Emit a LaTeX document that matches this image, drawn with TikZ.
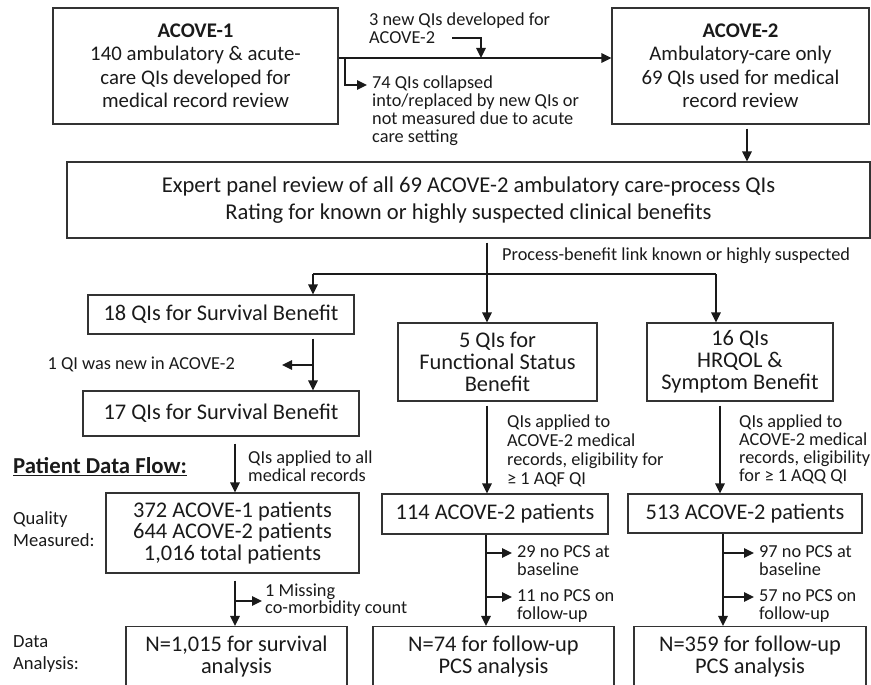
\documentclass[tikz,border=0pt]{standalone}
\usepackage{fontspec}
\setmainfont{Carlito}
\usetikzlibrary{arrows.meta,calc}
\definecolor{lc}{HTML}{1A1A1A}
\definecolor{bc}{HTML}{333333}
\newcommand\mainf{\fontsize{22.4}{21.8}\selectfont}
\newcommand\acovef{\fontsize{20.8}{23.5}\selectfont}
\newcommand\expf{\fontsize{22.6}{27}\selectfont}
\newcommand\smallf{\fontsize{18.3}{18}\selectfont}
\newcommand\sidef{\fontsize{18.6}{22}\selectfont}
\begin{document}
\begin{tikzpicture}[x=1pt,y=-1pt,
  box/.style={draw=bc, line width=1.1pt, inner sep=0pt, align=center, font=\mainf, text=lc},
  arr/.style={line width=1.5pt, draw=lc, -{Triangle[length=10pt,width=9.5pt]}},
  sarr/.style={arr, shorten >=5pt},
  ln/.style={line width=1.5pt, draw=lc},
  lbl/.style={inner sep=0pt, align=left, anchor=west, font=\smallf, text=lc},
  side/.style={inner sep=0pt, align=left, anchor=west, font=\sidef, text=lc}]
\useasboundingbox (0,0) rectangle (871,685);
% boxes
\node[box, font=\acovef, minimum width=285pt, minimum height=116pt] (a1) at (195.5,66) {\textbf{ACOVE-1}\\140 ambulatory \& acute-\\care QIs developed for\\medical record review};
\node[box, font=\acovef, minimum width=257pt, minimum height=116pt] (a2) at (740.5,66) {\textbf{ACOVE-2}\\Ambulatory-care only\\69 QIs used for medical\\record review};
\node[box, font=\expf, minimum width=803pt, minimum height=76pt] (exp) at (468.5,200) {Expert panel review of all 69 ACOVE-2 ambulatory care-process QIs\\Rating for known or highly suspected clinical benefits};
\node[box, minimum width=266pt, minimum height=39pt] (b18) at (221,314.5) {18 QIs for Survival Benefit};
\node[box, minimum width=199pt, minimum height=78pt] (b5) at (497.5,362) {5 QIs for\\Functional\ Status\\Benefit};
\node[box, minimum width=186pt, minimum height=78pt] (b16) at (740,362) {16 QIs\\HRQOL \&\\Symptom Benefit};
\node[box, minimum width=276pt, minimum height=45pt] (b17) at (221,413.5) {17 QIs for Survival Benefit};
\node[box, minimum width=253pt, minimum height=80pt] (pts) at (232.5,533) {372 ACOVE-1 patients\\644 ACOVE-2 patients\\1,016 total patients};
\node[box, minimum width=226pt, minimum height=40pt] (p114) at (495,514) {114 ACOVE-2 patients};
\node[box, minimum width=234pt, minimum height=39pt] (p513) at (745,513.5) {513 ACOVE-2 patients};
\node[box, minimum width=221pt, minimum height=60pt] (n1015) at (236.5,656.5) {N=1,015 for survival\\analysis};
\node[box, minimum width=241pt, minimum height=60pt] (n74) at (493.5,656.5) {N=74 for follow-up\\PCS analysis};
\node[box, minimum width=232pt, minimum height=60pt] (n359) at (750,656.5) {N=359 for follow-up\\PCS analysis};
% labels
\node[lbl] (t3) at (369,28) {3 new QIs developed for\\ACOVE-2};
\node[lbl] (t74) at (372,111) {74 QIs collapsed\\into/replaced by new QIs or\\not measured due to acute\\care setting};
\node[lbl] (proc) at (502,256) {Process-benefit link known or highly suspected};
\node[lbl, anchor=east] (t1qi) at (235,364) {1 QI was new in ACOVE-2};
\node[lbl] (tapp) at (248,466) {QIs applied to all\\medical records};
\node[side, font=\fontsize{22.8}{24}\selectfont\bfseries] (pdf) at (13,467) {\underline{Patient Data Flow:}};
\node[side] (qm) at (13,529) {Quality\\Measured:};
\node[side] (da) at (13,654) {Data\\Analysis:};
\node[lbl, font=\fontsize{18.3}{19}\selectfont] (t5app) at (507,451) {QIs applied to\\ACOVE-2 medical\\records, eligibility for\\≥ 1 AQF QI};
\node[lbl] (t16app) at (739,449) {QIs applied to\\ACOVE-2 medical\\records, eligibility\\for ≥ 1 AQQ QI};
\node[lbl, font=\fontsize{18.3}{16.5}\selectfont] (miss) at (265,600) {1 Missing\\co-morbidity count};
\node[lbl] (m29) at (517,561) {29 no PCS at\\baseline};
\node[lbl] (m11) at (517,606) {11 no PCS on\\follow-up};
\node[lbl] (m97) at (759,561) {97 no PCS at\\baseline};
\node[lbl] (m57) at (759,606) {57 no PCS on\\follow-up};
% coordinates
\coordinate (mainy) at (0,58);
\coordinate (j3) at (481,58);
\coordinate (k3) at (452,38);
\coordinate (h1) at (345,58);
\coordinate (h2) at (345,85);
\coordinate (xa2) at (747,0);
\coordinate (br) at (487,274);
\coordinate (bl) at (313,274);
\coordinate (brr) at (716,274);
\coordinate (x18) at (313,0);
\coordinate (s1) at (313,365);
\coordinate (s1e) at (282,365);
\coordinate (x17) at (235,0);
\coordinate (x5) at (487,0);
\coordinate (x16) at (720,0);
\coordinate (xm) at (486,0);
\coordinate (xr) at (723,0);
% connectors
\draw[arr] (a1.east |- mainy) -- (a2.west |- mainy);
\draw[arr] (k3) -- (k3 -| j3) -- (j3);
\draw[sarr] (h1) -- (h2) -- (t74.west |- h2);
\draw[arr] (a2.south -| xa2) ++(0,4) -- (exp.north -| xa2);
\draw[ln] (exp.south -| br) ++(0,4) -- (br);
\draw[arr] (br) -- (b5.north -| br);
\draw[ln] (bl) -- (brr);
\draw[arr] (bl) -- (b18.north -| bl);
\draw[arr] (brr) -- (b16.north -| brr);
\draw[arr] (b18.south -| x18) ++(0,4) -- (b17.north -| x18);
\draw[arr] (s1) -- (s1e);
\draw[arr] (b17.south -| x17) ++(0,7) -- (pts.north -| x17);
\draw[arr] (b5.south -| x5) ++(0,4) -- (p114.north -| x5);
\draw[arr] (b16.south -| x16) ++(0,4) -- (p513.north -| x16);
\draw[arr] (pts.south -| x17) ++(0,7) -- (n1015.north -| x17);
\draw[sarr, shorten >=3pt] (235,601) -- (miss.west |- 0,601);
\draw[arr] (p114.south -| xm) -- (n74.north -| xm);
\draw[sarr] (486,553) -- (m29.west |- 0,553);
\draw[sarr] (486,597) -- (m11.west |- 0,597);
\draw[arr] (p513.south -| xr) -- (n359.north -| xr);
\draw[sarr] (723,553) -- (m97.west |- 0,553);
\draw[sarr] (723,597) -- (m57.west |- 0,597);
\end{tikzpicture}
\end{document}
